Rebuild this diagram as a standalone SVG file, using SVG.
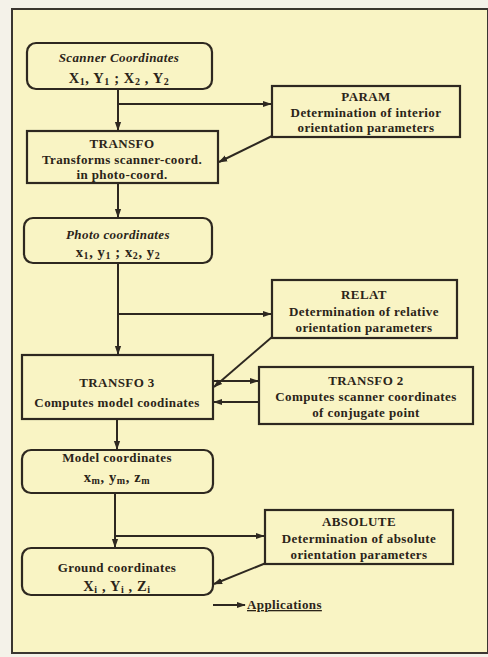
<svg xmlns="http://www.w3.org/2000/svg" width="488" height="657" viewBox="0 0 488 657">
<style>
.box{fill:none;stroke:#2e2820;stroke-width:2.2}
.t{font-family:"Liberation Serif","Times New Roman",serif;font-weight:bold;font-size:13px;letter-spacing:0.4px;fill:#2b2419;text-anchor:middle}
.k{font-size:14.5px;letter-spacing:0.6px}
.s{font-size:10px}
.c{stroke:#2e2820;stroke-width:2;fill:none;marker-end:url(#ah)}
</style>
<defs>
<marker id="ah" viewBox="0 0 10 10" refX="9" refY="5" markerWidth="4.5" markerHeight="4.5" orient="auto" markerUnits="strokeWidth">
<path d="M0,1.5 L10,5 L0,8.5 Z" fill="#2e2820"/>
</marker>
</defs>
<rect x="0" y="0" width="488" height="657" fill="#f4f2e9"/>
<rect x="12" y="9" width="476" height="644" fill="#f9f4c4" stroke="#3a3630" stroke-width="2"/>

<g id="connectors">
<line class="c" x1="118" y1="89" x2="118" y2="130"/>
<line class="c" x1="118" y1="104" x2="271" y2="104"/>
<line class="c" x1="272" y1="136" x2="219" y2="162"/>
<line class="c" x1="118" y1="183" x2="118" y2="217"/>
<line class="c" x1="118" y1="263" x2="118" y2="354"/>
<line class="c" x1="118" y1="314" x2="271" y2="314"/>
<line class="c" x1="272" y1="337" x2="214" y2="387"/>
<line class="c" x1="213" y1="381" x2="258" y2="381"/>
<line class="c" x1="259" y1="402" x2="214" y2="402"/>
<line class="c" x1="117" y1="419" x2="117" y2="449"/>
<line class="c" x1="115" y1="493" x2="115" y2="547"/>
<line class="c" x1="115" y1="536" x2="264" y2="536"/>
<line class="c" x1="266" y1="563" x2="214" y2="584"/>
<line class="c" x1="213" y1="605" x2="245" y2="605"/>
</g>

<g id="scanner">
<rect class="box" x="27" y="43" width="185" height="46" rx="9"/>
<text class="t" x="119" y="62" font-style="italic">Scanner Coordinates</text>
<text class="t k" x="119" y="83">X<tspan class="s" dy="2">1</tspan><tspan dy="-2">, Y</tspan><tspan class="s" dy="2">1</tspan><tspan dy="-2"> ; X</tspan><tspan class="s" dy="2">2</tspan><tspan dy="-2"> , Y</tspan><tspan class="s" dy="2">2</tspan></text>
</g>

<g id="param">
<rect class="box" x="272" y="86" width="188" height="51"/>
<text class="t" x="366" y="101">PARAM</text>
<text class="t" x="366" y="117">Determination of interior</text>
<text class="t" x="366" y="132">orientation parameters</text>
</g>

<g id="transfo">
<rect class="box" x="27" y="131" width="191" height="52"/>
<text class="t" x="122" y="148">TRANSFO</text>
<text class="t" x="122" y="164">Transforms scanner-coord.</text>
<text class="t" x="122" y="179">in photo-coord.</text>
</g>

<g id="photo">
<rect class="box" x="24" y="218" width="188" height="45" rx="9"/>
<text class="t" x="118" y="239" font-style="italic">Photo coordinates</text>
<text class="t k" x="118" y="257">x<tspan class="s" dy="2">1</tspan><tspan dy="-2">, y</tspan><tspan class="s" dy="2">1</tspan><tspan dy="-2"> ; x</tspan><tspan class="s" dy="2">2</tspan><tspan dy="-2">, y</tspan><tspan class="s" dy="2">2</tspan></text>
</g>

<g id="relat">
<rect class="box" x="272" y="280" width="185" height="58"/>
<text class="t" x="364" y="299">RELAT</text>
<text class="t" x="364" y="316">Determination of relative</text>
<text class="t" x="364" y="332">orientation parameters</text>
</g>

<g id="transfo3">
<rect class="box" x="22" y="355" width="191" height="64"/>
<text class="t" x="117" y="387">TRANSFO 3</text>
<text class="t" x="117" y="407">Computes model coodinates</text>
</g>

<g id="transfo2">
<rect class="box" x="259" y="367" width="214" height="57"/>
<text class="t" x="366" y="385">TRANSFO 2</text>
<text class="t" x="366" y="401">Computes scanner coordinates</text>
<text class="t" x="366" y="417">of conjugate point</text>
</g>

<g id="model">
<rect class="box" x="22" y="450" width="191" height="43" rx="9"/>
<text class="t" x="117" y="462">Model coordinates</text>
<text class="t k" x="117" y="482">x<tspan class="s" dy="2">m</tspan><tspan dy="-2">, y</tspan><tspan class="s" dy="2">m</tspan><tspan dy="-2">, z</tspan><tspan class="s" dy="2">m</tspan></text>
</g>

<g id="absolute">
<rect class="box" x="265" y="510" width="188" height="54"/>
<text class="t" x="359" y="526">ABSOLUTE</text>
<text class="t" x="359" y="543">Determination of absolute</text>
<text class="t" x="359" y="559">orientation parameters</text>
</g>

<g id="ground">
<rect class="box" x="22" y="548" width="191" height="47" rx="9"/>
<text class="t" x="117" y="572">Ground coordinates</text>
<text class="t k" x="117" y="591">X<tspan class="s" dy="2">i</tspan><tspan dy="-2"> , Y</tspan><tspan class="s" dy="2">i</tspan><tspan dy="-2"> , Z</tspan><tspan class="s" dy="2">i</tspan></text>
</g>

<g id="applications">
<text class="t" x="247" y="609" style="text-anchor:start;text-decoration:underline">Applications</text>
</g>
</svg>
